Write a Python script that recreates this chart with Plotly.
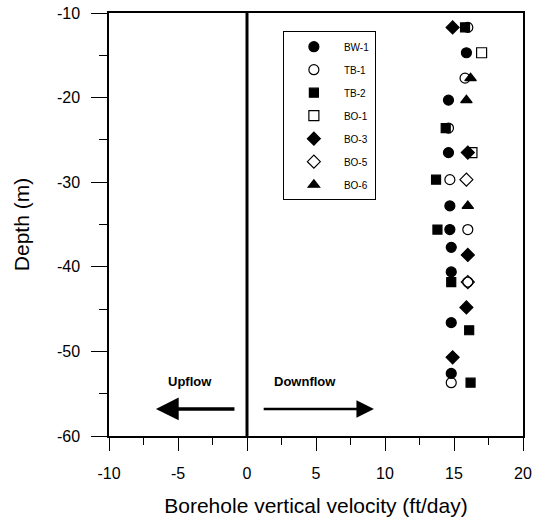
import plotly.graph_objects as go

# Data (velocity ft/day, depth m)
bw1_x = [15.9, 14.6, 14.6, 14.7, 14.7, 14.8, 14.8, 14.8, 14.8]
bw1_y = [-14.7, -20.3, -26.5, -32.8, -35.6, -37.7, -40.6, -46.6, -52.6]
tb1_x = [16.0, 15.8, 14.6, 14.7, 16.0, 16.0, 14.8]
tb1_y = [-11.7, -17.7, -23.6, -29.7, -35.6, -41.8, -53.7]
tb2_x = [15.8, 14.4, 13.7, 13.8, 14.8, 16.1, 16.2]
tb2_y = [-11.7, -23.6, -29.7, -35.6, -41.8, -47.5, -53.7]
bo1_x = [17.0, 16.3]
bo1_y = [-14.7, -26.5]
bo3_x = [14.9, 16.0, 16.0, 15.9, 14.9]
bo3_y = [-11.7, -26.5, -38.6, -44.8, -50.7]
bo5_x = [15.9, 16.0]
bo5_y = [-29.7, -41.8]
bo6_x = [16.2, 15.9, 16.0]
bo6_y = [-17.7, -20.3, -32.8]

x_ticks = [-10, -5, 0, 5, 10, 15, 20]
x_labels = ["-10", "-5", "0", "5", "10", "15", "20"]
y_ticks = [-60, -50, -40, -30, -20, -10]
y_labels = ["-60", "-50", "-40", "-30", "-20", "-10"]

series = [
    ("BW-1", bw1_x, bw1_y, "circle", 10),
    ("TB-1", tb1_x, tb1_y, "circle-open", 10),
    ("TB-2", tb2_x, tb2_y, "square", 9),
    ("BO-1", bo1_x, bo1_y, "square-open", 10),
    ("BO-3", bo3_x, bo3_y, "diamond", 10),
    ("BO-5", bo5_x, bo5_y, "diamond-open", 10),
    ("BO-6", bo6_x, bo6_y, "triangle-up", 10),
]

fig = go.Figure()
for name, xs, ys, sym, sz in series:
    fig.add_trace(go.Scatter(
        x=xs, y=ys, mode="markers", name=name, legendgroup=name,
        marker=dict(symbol=sym, size=sz, color="black", line=dict(color="black", width=1.2)),
    ))

# vertical zero line
fig.add_shape(type="line", x0=0, x1=0, y0=-60, y1=-10, xref="x", yref="y",
              line=dict(color="black", width=3))

# arrows
fig.add_annotation(x=-6.6, y=-56.8, ax=-0.8, ay=-56.8, xref="x", yref="y", axref="x", ayref="y",
                   showarrow=True, arrowhead=2, arrowsize=1.3, arrowwidth=3.5, arrowcolor="black", text="")
fig.add_annotation(x=9.2, y=-56.8, ax=1.1, ay=-56.8, xref="x", yref="y", axref="x", ayref="y",
                   showarrow=True, arrowhead=2, arrowsize=1.4, arrowwidth=2.5, arrowcolor="black", text="")
fig.add_annotation(x=-4.1, y=-53.6, xref="x", yref="y", text="<b>Upflow</b>", showarrow=False,
                   font=dict(family="Liberation Sans, Arial", size=13, color="black"))
fig.add_annotation(x=4.2, y=-53.6, xref="x", yref="y", text="<b>Downflow</b>", showarrow=False,
                   font=dict(family="Liberation Sans, Arial", size=13, color="black"))

fig.update_layout(
    width=535, height=531,
    margin=dict(l=109, r=12, t=13, b=95),
    plot_bgcolor="white", paper_bgcolor="white",
    font=dict(family="Liberation Sans, Arial", color="black"),
    showlegend=True,
    legend=dict(x=0.42, y=0.957, xanchor="left", yanchor="top",
                bordercolor="black", borderwidth=1, bgcolor="white",
                font=dict(size=10), tracegroupgap=4, itemwidth=50,
                entrywidth=115, entrywidthmode="pixels"),
    xaxis=dict(range=[-10, 20], tickvals=x_ticks, ticktext=x_labels, showgrid=False, zeroline=False,
               showline=True, linecolor="black", linewidth=1.5, mirror=True, automargin=False,
               ticks="outside", ticklen=13, tickcolor="black", ticklabelstandoff=9,
               minor=dict(dtick=2.5, ticks="outside", ticklen=7, tickcolor="black"),
               tickfont=dict(size=16),
               title=dict(text="Borehole vertical velocity (ft/day)", font=dict(size=21), standoff=17)),
    yaxis=dict(range=[-60, -10], tickvals=y_ticks, ticktext=y_labels, showgrid=False, zeroline=False,
               showline=True, linecolor="black", linewidth=1.5, mirror=True, automargin=False,
               ticks="outside", ticklen=16, tickcolor="black", ticklabelstandoff=8,
               minor=dict(dtick=5, ticks="outside", ticklen=8, tickcolor="black"),
               tickfont=dict(size=16),
               title=dict(text="Depth (m)", font=dict(size=21), standoff=22)),
)

fig.write_html("out.html", config={"displayModeBar": False},
               post_script="document.body.style.margin='0';")
